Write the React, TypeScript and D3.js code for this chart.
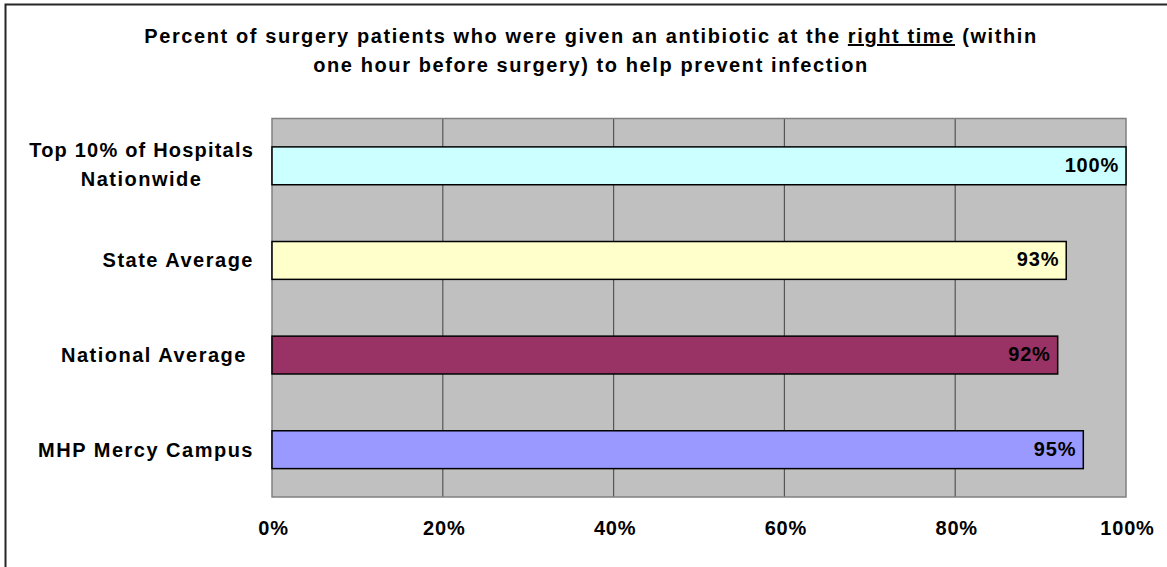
import React, { useEffect, useRef } from "react";
import * as d3 from "d3";

const categories = ["Top 10% of Hospitals\nNationwide", "State Average", "National Average ", "MHP Mercy Campus"];
const values = [1.0, 0.93, 0.92, 0.95];
const barColors = ["#CCFFFF", "#FFFFCC", "#993366", "#9999FF"];
const xTicks = [0, 0.2, 0.4, 0.6, 0.8, 1.0];
const titleLine1a = "Percent of surgery patients who were given an antibiotic at the ";
const titleUnderlined = "right time";
const titleLine1b = " (within";
const titleLine2 = "one hour before surgery) to help prevent infection";

const W = 1167;
const H = 567;
const FONT = "'Liberation Sans', Arial, Helvetica, sans-serif";

export default function App() {
  const ref = useRef<SVGSVGElement | null>(null);

  useEffect(() => {
    const svg = d3.select(ref.current);
    svg.selectAll("*").remove();

    const plot = { left: 272, right: 1126, top: 118.5, bottom: 497 };
    const x = d3.scaleLinear().domain([0, 1]).range([plot.left, plot.right]);
    const y = d3
      .scaleBand<string>()
      .domain(categories)
      .range([plot.top, plot.bottom])
      .paddingInner(0.6)
      .paddingOuter(0.3);

    // outer border
    svg
      .append("rect")
      .attr("x", 5.5)
      .attr("y", 4.5)
      .attr("width", W + 20)
      .attr("height", H + 20)
      .attr("fill", "#fff")
      .attr("stroke", "#262626")
      .attr("stroke-width", 2);

    // title
    const title = svg
      .append("text")
      .attr("font-family", FONT)
      .attr("font-weight", "bold")
      .attr("font-size", 20)
      .attr("letter-spacing", 1.6)
      .attr("fill", "#000")
      .attr("text-anchor", "middle");
    const t1 = title.append("tspan").attr("x", 591).attr("y", 43).style("white-space", "pre");
    t1.append("tspan").text(titleLine1a);
    t1.append("tspan").attr("text-decoration", "underline").style("text-decoration", "underline").text(titleUnderlined);
    t1.append("tspan").text(titleLine1b);
    title.append("tspan").attr("x", 591).attr("y", 72).text(titleLine2);

    // plot background
    svg
      .append("rect")
      .attr("x", plot.left)
      .attr("y", plot.top)
      .attr("width", plot.right - plot.left)
      .attr("height", plot.bottom - plot.top)
      .attr("fill", "#C0C0C0");

    // gridlines
    svg
      .append("g")
      .selectAll("line")
      .data(xTicks.slice(1, -1))
      .join("line")
      .attr("x1", (d) => x(d))
      .attr("x2", (d) => x(d))
      .attr("y1", plot.top)
      .attr("y2", plot.bottom)
      .attr("stroke", "#555")
      .attr("stroke-width", 1.2);

    // plot border
    svg
      .append("rect")
      .attr("x", plot.left)
      .attr("y", plot.top)
      .attr("width", plot.right - plot.left)
      .attr("height", plot.bottom - plot.top)
      .attr("fill", "none")
      .attr("stroke", "#808080")
      .attr("stroke-width", 1.5);

    // bars
    svg
      .append("g")
      .selectAll("rect")
      .data(categories)
      .join("rect")
      .attr("x", x(0))
      .attr("y", (d) => y(d)!)
      .attr("width", (d, i) => x(values[i]) - x(0))
      .attr("height", y.bandwidth())
      .attr("fill", (d, i) => barColors[i])
      .attr("stroke", "#000")
      .attr("stroke-width", 1.5);

    // value labels
    svg
      .append("g")
      .selectAll("text")
      .data(categories)
      .join("text")
      .attr("x", (d, i) => x(values[i]) - 7)
      .attr("y", (d) => y(d)! + y.bandwidth() / 2 + 6)
      .attr("text-anchor", "end")
      .attr("font-family", FONT)
      .attr("font-weight", "bold")
      .attr("font-size", 20)
      .attr("letter-spacing", 0.8)
      .attr("fill", "#000")
      .text((d, i) => `${Math.round(values[i] * 100)}%`);

    // x tick labels
    svg
      .append("g")
      .selectAll("text")
      .data(xTicks)
      .join("text")
      .attr("x", (d) => x(d) + 1.5)
      .attr("y", 535)
      .attr("text-anchor", "middle")
      .attr("font-family", FONT)
      .attr("font-weight", "bold")
      .attr("font-size", 20)
      .attr("letter-spacing", 0.8)
      .attr("fill", "#000")
      .text((d) => d3.format(".0%")(d));

    // category labels
    const labelRight = 254;
    categories.forEach((c) => {
      const lines = c.split("\n");
      const cy = y(c)! + y.bandwidth() / 2;
      if (lines.length === 1) {
        svg
          .append("text")
          .attr("x", labelRight)
          .attr("y", cy + 7)
          .attr("text-anchor", "end")
          .attr("font-family", FONT)
          .attr("font-weight", "bold")
          .attr("font-size", 20)
          .attr("letter-spacing", 1.5)
          .style("white-space", "pre")
          .attr("fill", "#000")
          .text(lines[0]);
      } else {
        const first = svg
          .append("text")
          .attr("x", labelRight)
          .attr("y", cy - 8.5)
          .attr("text-anchor", "end")
          .attr("font-family", FONT)
          .attr("font-weight", "bold")
          .attr("font-size", 20)
          .attr("letter-spacing", 1.2)
          .attr("fill", "#000")
          .text(lines[0]);
        const w = (first.node() as SVGTextElement).getComputedTextLength();
        svg
          .append("text")
          .attr("x", labelRight - w / 2)
          .attr("y", cy + 20)
          .attr("text-anchor", "middle")
          .attr("font-family", FONT)
          .attr("font-weight", "bold")
          .attr("font-size", 20)
          .attr("letter-spacing", 1.5)
          .attr("fill", "#000")
          .text(lines[1]);
      }
    });
  }, []);

  return (
    <div style={{ position: "absolute", left: 0, top: 0, width: W, height: H, overflow: "hidden" }}>
      <svg ref={ref} width={W} height={H} style={{ display: "block" }} />
    </div>
  );
}
